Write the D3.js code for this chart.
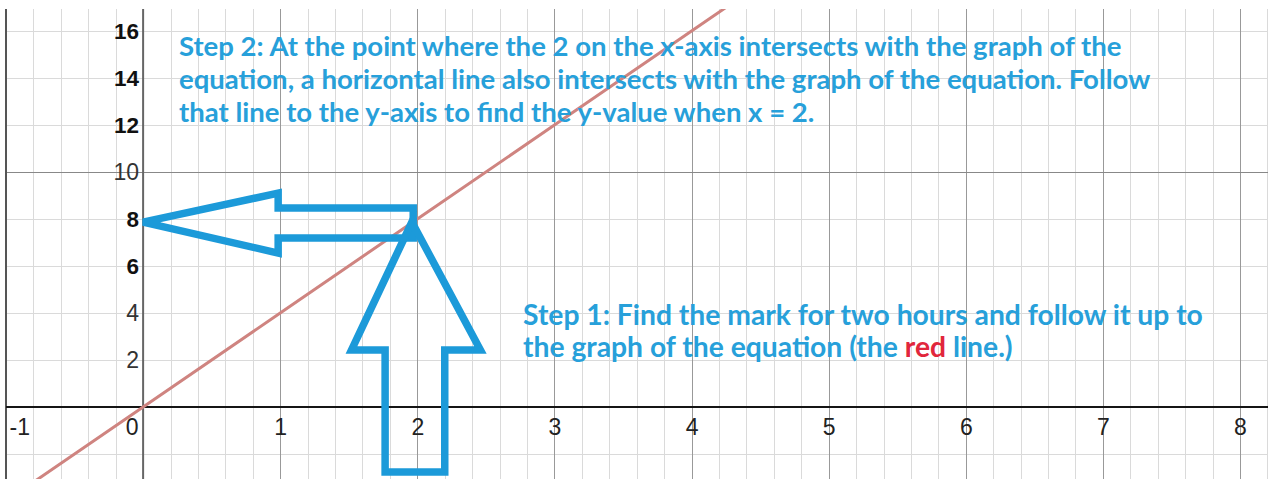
<!DOCTYPE html>
<html>
<head>
<meta charset="utf-8">
<script src="https://cdn.jsdelivr.net/npm/d3@7"></script>
<style>
  html, body { margin: 0; padding: 0; background: #fff; overflow: hidden; }
  svg { display: block; }
</style>
</head>
<body>
<svg id="chart" width="1268" height="479"></svg>
<script>
// Tick labels on the horizontal axis (hours)
const xTickValues = [-1, 0, 1, 2, 3, 4, 5, 6, 7, 8];
// Tick labels on the vertical axis
const yTickValues = [2, 4, 6, 8, 10, 12, 14, 16];
// Points on the graph of the equation (the red line)
const lineX = [-1, 0, 1, 2, 3, 4, 5];
const lineY = [-4, 0, 4, 8, 12, 16, 20];
// Instruction text blocks
const step2Lines = [
  "Step 2: At the point where the 2 on the x-axis intersects with the graph of the",
  "equation, a horizontal line also intersects with the graph of the equation. Follow",
  "that line to the y-axis to find the y-value when x = 2."
];
const step1Lines = [
  ["Step 1: Find the mark for two hours and follow it up to"],
  ["the graph of the equation (the ", "red", " line.)"]
];
// Outline arrows, in graph units
const leftArrow = [[0, 7.87], [0.985, 9.1], [0.985, 8.47], [1.97, 8.47], [1.97, 7.19], [0.985, 7.19], [0.985, 6.55]];
const upArrow = [[1.96, 7.87], [2.46, 2.43], [2.2, 2.43], [2.2, -2.77], [1.765, -2.77], [1.765, 2.43], [1.52, 2.43]];

const W = 1268, H = 479;
const svg = d3.select("#chart");

const x = d3.scaleLinear().domain([-1, 8]).range([6, 1240]);
const y = d3.scaleLinear().domain([0, 10]).range([407, 172]);

const plotTop = 9, plotLeft = 6;

svg.append("defs").append("clipPath").attr("id", "plot")
  .append("rect").attr("x", plotLeft).attr("y", plotTop)
  .attr("width", W - plotLeft).attr("height", H - plotTop);

const grid = svg.append("g").attr("clip-path", "url(#plot)");

const xMin = x.invert(plotLeft), xMax = x.invert(W);
const yMin = y.invert(H), yMax = y.invert(plotTop);

// minor vertical grid (every 0.2)
const minorX = d3.range(Math.ceil(xMin * 5), Math.floor(xMax * 5) + 1).filter(k => k % 5 !== 0).map(k => k / 5);
grid.selectAll(".vminor").data(minorX).join("line")
  .attr("x1", d => Math.round(x(d)) + 0.5).attr("x2", d => Math.round(x(d)) + 0.5)
  .attr("y1", plotTop).attr("y2", H)
  .attr("stroke", "#dadada").attr("stroke-width", 1);

// minor horizontal grid (every 2)
const minorY = d3.range(Math.ceil(yMin / 2), Math.floor(yMax / 2) + 1).map(k => k * 2).filter(v => v % 10 !== 0);
grid.selectAll(".hminor").data(minorY).join("line")
  .attr("y1", d => Math.round(y(d)) + 0.5).attr("y2", d => Math.round(y(d)) + 0.5)
  .attr("x1", plotLeft).attr("x2", W)
  .attr("stroke", "#dadada").attr("stroke-width", 1);

// major vertical grid (every 1)
const majorX = d3.range(Math.ceil(xMin), Math.floor(xMax) + 1).filter(v => v !== 0 && v !== -1);
grid.selectAll(".vmajor").data(majorX).join("line")
  .attr("x1", d => Math.round(x(d)) + 0.5).attr("x2", d => Math.round(x(d)) + 0.5)
  .attr("y1", plotTop).attr("y2", H)
  .attr("stroke", "#999").attr("stroke-width", 1);

// major horizontal grid (every 10)
const majorY = [10];
grid.selectAll(".hmajor").data(majorY).join("line")
  .attr("y1", d => Math.round(y(d)) + 0.5).attr("y2", d => Math.round(y(d)) + 0.5)
  .attr("x1", plotLeft).attr("x2", W)
  .attr("stroke", "#888").attr("stroke-width", 1);

// left frame line and axes
svg.append("line").attr("x1", x(-1)).attr("x2", x(-1)).attr("y1", plotTop).attr("y2", H)
  .attr("stroke", "#555").attr("stroke-width", 2);
svg.append("line").attr("x1", x(0)).attr("x2", x(0)).attr("y1", plotTop).attr("y2", H)
  .attr("stroke", "#666").attr("stroke-width", 2);
svg.append("line").attr("x1", plotLeft).attr("x2", W).attr("y1", y(0)).attr("y2", y(0))
  .attr("stroke", "#151515").attr("stroke-width", 2);

// graph of the equation
const line = d3.line().x(d => x(d[0])).y(d => y(d[1]));
svg.append("path").attr("clip-path", "url(#plot)")
  .datum(lineX.map((v, i) => [v, lineY[i]]))
  .attr("d", line)
  .attr("fill", "none").attr("stroke", "#cf8480").attr("stroke-width", 3);

// x-axis labels
const labelFont = "Liberation Sans, Arial, sans-serif";
const xAxis = svg.append("g").attr("transform", `translate(0,${y(0)})`)
  .call(d3.axisBottom(x).tickValues(xTickValues).tickSize(0).tickPadding(12).tickFormat(d => String(d)));
xAxis.select(".domain").remove();
xAxis.attr("font-family", labelFont).attr("font-size", null);
xAxis.selectAll("text")
  .style("font-size", "23px")
  .attr("fill", "#222")
  .each(function(d) {
    const t = d3.select(this);
    if (d === -1) t.attr("text-anchor", "start").attr("x", 3);
    if (d === 0) t.attr("text-anchor", "end").attr("x", -5);
  });

// y-axis labels
const emphasized = new Set([6, 8, 12, 14, 16]);
const yAxis = svg.append("g").attr("transform", `translate(${x(0)},0)`)
  .call(d3.axisLeft(y).tickValues(yTickValues).tickSize(0).tickPadding(4).tickFormat(d => String(d)));
yAxis.select(".domain").remove();
yAxis.attr("font-family", labelFont).attr("font-size", null);
yAxis.selectAll("text")
  .style("font-size", d => emphasized.has(d) ? "22.5px" : "23px")
  .attr("font-weight", d => emphasized.has(d) ? "bold" : "normal")
  .attr("fill", d => emphasized.has(d) ? "#111" : "#333");

// arrows
const arrowPath = pts => "M" + pts.map(p => `${x(p[0])},${y(p[1])}`).join("L") + "Z";
[leftArrow, upArrow].forEach(a => {
  svg.append("path").attr("d", arrowPath(a))
    .attr("fill", "none").attr("stroke", "#1c9ad9").attr("stroke-width", 7.5)
    .attr("stroke-linejoin", "miter").attr("stroke-miterlimit", 3);
});

// instruction text, sized so the first line of each block spans its column
const textFont = "Lato, 'Noto Sans', sans-serif";
function textBlock(lines, left, firstBaseline, lineGap, targetWidth) {
  const g = svg.append("g").attr("font-family", textFont).attr("font-weight", 700).attr("fill", "#27a0da");
  const texts = lines.map((ln, i) => {
    const t = g.append("text").attr("x", left).attr("y", firstBaseline + i * lineGap).attr("font-size", 20);
    const parts = Array.isArray(ln) ? ln : [ln];
    parts.forEach(p => {
      const s = t.append("tspan").text(p);
      if (p === "red") s.attr("fill", "#e1263c");
    });
    return t;
  });
  const w = texts[0].node().getComputedTextLength();
  const size = 20 * targetWidth / w;
  texts.forEach(t => t.attr("font-size", size));
}
textBlock(step2Lines, 179, 56, 33, 943);
textBlock(step1Lines, 523, 325, 32, 680);
</script>
</body>
</html>
